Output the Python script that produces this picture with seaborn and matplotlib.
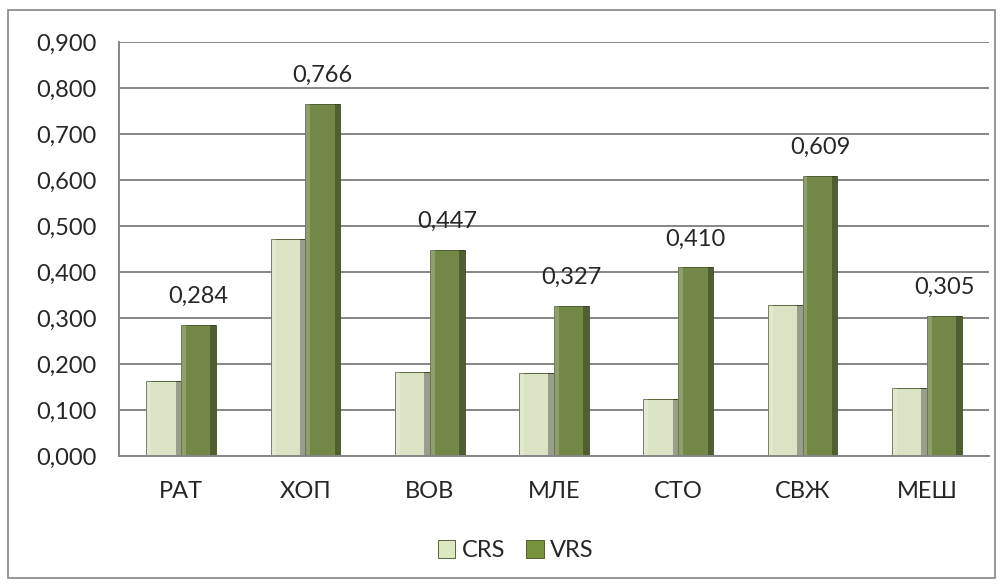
import seaborn as sns
import pandas as pd
import numpy as np
import matplotlib.pyplot as plt
from matplotlib.patches import Rectangle
from matplotlib.ticker import FixedLocator, FuncFormatter

categories = ['РАТ', 'ХОП', 'ВОВ', 'МЛЕ', 'СТО', 'СВЖ', 'МЕШ']
crs = [0.164, 0.471, 0.182, 0.180, 0.123, 0.328, 0.148]
vrs = [0.284, 0.766, 0.447, 0.327, 0.410, 0.609, 0.305]
series = ['CRS', 'VRS']
colors = {'CRS': '#dde8c0', 'VRS': '#77933c'}

df = pd.DataFrame({
    'cat': categories * 2,
    'val': crs + vrs,
    'series': ['CRS'] * len(crs) + ['VRS'] * len(vrs),
})

sns.set_style('white')
plt.rcParams['font.family'] = ['Lato', 'DejaVu Sans']
fs = 17

fig = plt.figure(figsize=(10.07, 5.86), dpi=100)
ax = fig.add_axes([119 / 1007, 130 / 586, 870 / 1007, 414 / 586])

sns.barplot(data=df, x='cat', y='val', hue='series', palette=colors,
            width=0.56, gap=0, edgecolor='#3f4f1f', linewidth=0.6,
            legend=False, ax=ax)

# simple bevel: lighter left strip, darker right strip on every bar
for cont in ax.containers:
    for bar in cont:
        x, w, h = bar.get_x(), bar.get_width(), bar.get_height()
        ax.add_patch(Rectangle((x, 0), w * 0.14, h, facecolor='white', alpha=0.2,
                               linewidth=0, zorder=bar.get_zorder() + 0.1))
        ax.add_patch(Rectangle((x + w * 0.84, 0), w * 0.16, h, facecolor='black', alpha=0.3,
                               linewidth=0, zorder=bar.get_zorder() + 0.1))

ax.set_ylim(0, 0.9)
ax.set_xlim(-0.5, len(categories) - 0.5)
ax.set_yticks(np.arange(0, 0.91, 0.1))
ax.yaxis.set_major_formatter(FuncFormatter(lambda v, p: f'{v:.3f}'.replace('.', ',')))
ax.yaxis.grid(True, color='#868686', linewidth=1.4)
ax.set_axisbelow(True)
ax.set_xlabel('')
ax.set_ylabel('')

for s in ['top', 'right']:
    ax.spines[s].set_visible(False)
for s in ['left', 'bottom']:
    ax.spines[s].set_color('#868686')
    ax.spines[s].set_linewidth(1.4)

ax.tick_params(axis='y', length=7, width=1.4, color='#868686', labelsize=fs, pad=9)
ax.tick_params(axis='x', which='major', length=0, labelsize=fs, pad=18)
ax.xaxis.set_minor_locator(FixedLocator(np.arange(0.5, len(categories) - 0.5, 1)))
ax.tick_params(axis='x', which='minor', length=7, width=1.4, color='#868686', direction='out')

# value labels on VRS bars
vrs_bars = ax.containers[1]
for bar, v in zip(vrs_bars, vrs):
    ax.annotate(f'{v:.3f}'.replace('.', ','),
                (bar.get_x() + bar.get_width() / 2, bar.get_height()),
                xytext=(0, 13), textcoords='offset points',
                ha='center', va='bottom', fontsize=fs)

handles = [Rectangle((0, 0), 1, 1, facecolor=colors[s], edgecolor='#3f4f1f', linewidth=0.6)
           for s in series]
fig.legend(handles, series, loc='center', bbox_to_anchor=(0.512, 0.06), ncol=2,
           frameon=False, fontsize=fs, handlelength=0.75, handleheight=0.75,
           handletextpad=0.25, columnspacing=0.9)

fig.patches.append(Rectangle((8 / 1007, 8 / 586), 987 / 1007, 568 / 586,
                             transform=fig.transFigure, fill=False,
                             edgecolor='#868686', linewidth=1.2))

fig.savefig('out.png', dpi=100)
